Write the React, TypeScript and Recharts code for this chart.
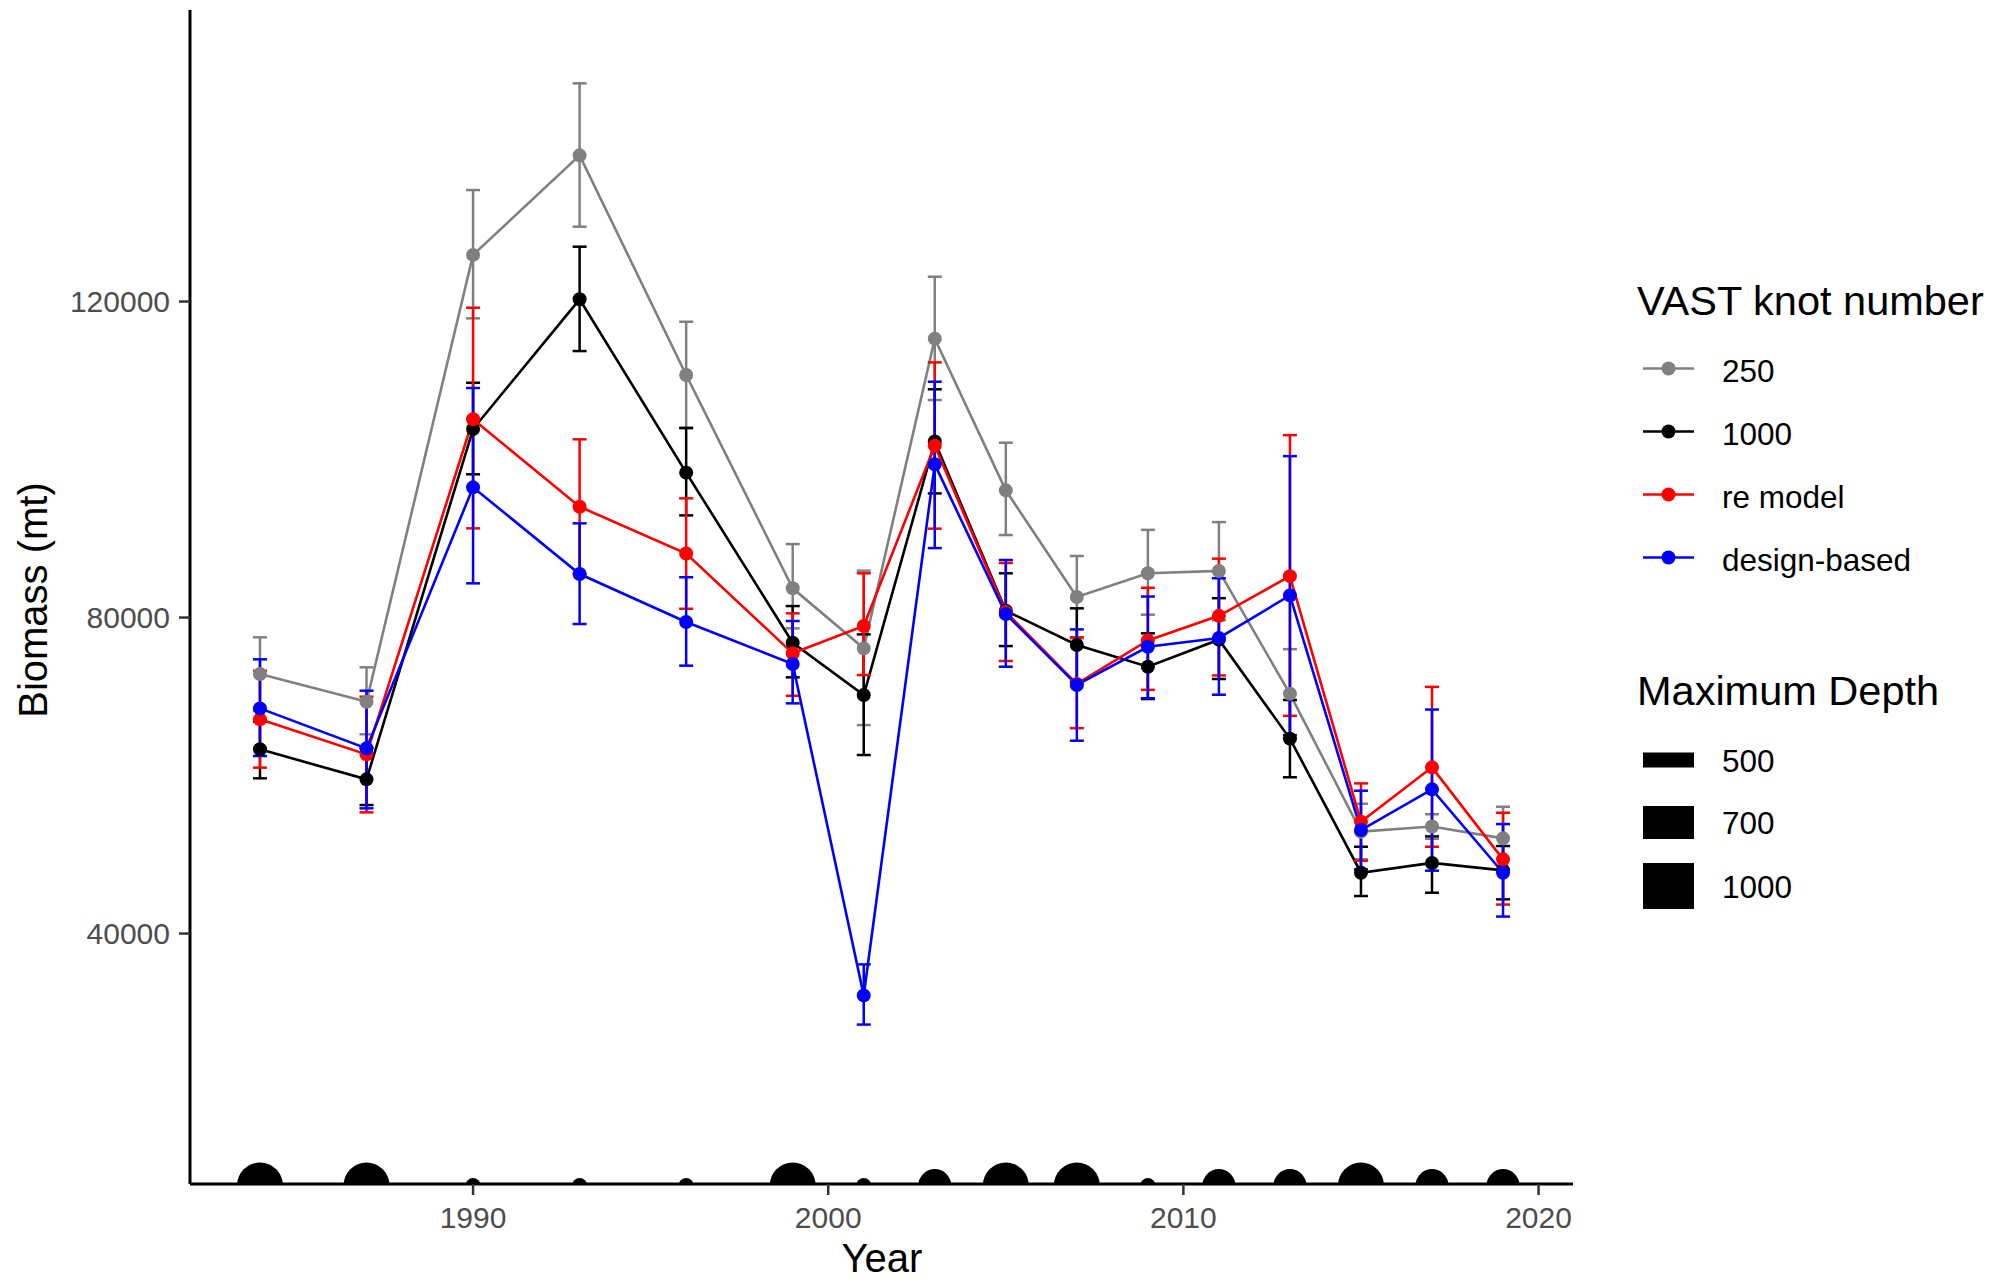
import React from 'react';
import { ComposedChart, ErrorBar, Line, Scatter, XAxis, YAxis } from 'recharts';

const YEARS = [1984, 1987, 1990, 1993, 1996, 1999, 2001, 2003, 2005, 2007, 2009, 2011, 2013, 2015, 2017, 2019];
const MAX_DEPTH = [1000, 1000, 500, 500, 500, 1000, 500, 700, 1000, 1000, 500, 700, 700, 1000, 700, 700];

// VAST, 250 knots
const KNOT_250 = [72850, 69350, 125900, 138500, 110700, 83700, 76100, 115300, 96100, 82600, 85600, 85900, 70350, 52900, 53550, 52050];
const KNOT_250_LO = [68200, 65220, 117870, 129470, 103950, 78630, 66390, 107530, 90440, 77370, 80360, 79650, 64700, 49400, 52000, 48050];
const KNOT_250_HI = [77500, 73700, 134110, 147620, 117440, 89300, 85930, 123140, 102130, 87790, 91100, 92080, 76000, 56430, 55100, 56050];

// VAST, 1000 knots
const KNOT_1000 = [63320, 59520, 103860, 120280, 98340, 76810, 70180, 102280, 80860, 76520, 73780, 77200, 64670, 47700, 48940, 48000];
const KNOT_1000_LO = [59650, 56270, 98130, 113730, 92930, 72430, 62600, 95710, 76390, 71900, 69680, 72220, 59780, 44750, 45170, 44330];
const KNOT_1000_HI = [66810, 63510, 109720, 126940, 104010, 81455, 77870, 108890, 85600, 81165, 78000, 82450, 69560, 50990, 52300, 51080];

// random effects model
const RE_MODEL = [67115, 62680, 105090, 94030, 88100, 75470, 78925, 101760, 80700, 71600, 77100, 80215, 85240, 54150, 61040, 49390];
const RE_MODEL_LO = [61000, 55340, 91290, 85500, 81110, 70100, 72720, 91250, 74500, 66000, 70850, 72670, 67560, 49220, 50990, 43670];
const RE_MODEL_HI = [73270, 69980, 119215, 102560, 95090, 80530, 85600, 112300, 86900, 77500, 83770, 87455, 103090, 59010, 71225, 55290];

// design-based survey estimate
const DESIGN = [68500, 63440, 96480, 85510, 79430, 74115, 32170, 99390, 80440, 71460, 76300, 77420, 82800, 53100, 58250, 47700];
const DESIGN_LO = [62470, 55850, 84330, 79180, 73910, 69140, 28480, 88790, 73775, 64410, 69785, 70230, 65110, 48125, 47960, 42150];
const DESIGN_HI = [74710, 70740, 109050, 91925, 85100, 79560, 36100, 109850, 87280, 78500, 82660, 84970, 100430, 58080, 68355, 53860];

const Y_TICKS = [40000, 80000, 120000];
const X_TICKS = [1990, 2000, 2010, 2020];
const DEPTH_LEVELS = [500, 700, 1000];

const SERIES = [
  { key: 'k250', name: '250', color: '#808080', value: KNOT_250, lo: KNOT_250_LO, hi: KNOT_250_HI },
  { key: 'k1000', name: '1000', color: '#000000', value: KNOT_1000, lo: KNOT_1000_LO, hi: KNOT_1000_HI },
  { key: 're', name: 're model', color: '#FF0000', value: RE_MODEL, lo: RE_MODEL_LO, hi: RE_MODEL_HI },
  { key: 'db', name: 'design-based', color: '#0000FF', value: DESIGN, lo: DESIGN_LO, hi: DESIGN_HI },
];

const DEPTH_R: Record<number, number> = { 500: 7.5, 700: 16.5, 1000: 23 };
const DEPTH_FLOOR = 8100; // just under the panel edge, only the top of each dot shows

const FONT = '"Liberation Sans", Arial, sans-serif';
const W = 1997;
const H = 1280;

const chartData = YEARS.map((year, i) => {
  const row: Record<string, any> = { year };
  SERIES.forEach((s) => {
    row[s.key] = s.value[i];
    row[s.key + 'Err'] = [s.value[i] - s.lo[i], s.hi[i] - s.value[i]];
  });
  return row;
});

const depthData = YEARS.map((year, i) => ({ year, floor: DEPTH_FLOOR, depth: MAX_DEPTH[i] }));

const tickStyle = { fontSize: 30, fill: '#4D4D4D', fontFamily: FONT };

function LegendOverlay() {
  const keyX1 = 1643;
  const keyX2 = 1694;
  const labelX = 1722;
  return (
    <svg
      width={W}
      height={H}
      style={{ position: 'absolute', left: 0, top: 0, pointerEvents: 'none' }}
      fontFamily={FONT}
    >
      {/* axis titles */}
      <text x={47} y={600} fontSize={40} textAnchor="middle" transform="rotate(-90, 47, 600)">
        Biomass (mt)
      </text>
      <text x={882} y={1272} fontSize={40} textAnchor="middle">
        Year
      </text>

      <text x={1637} y={315} fontSize={41.5}>VAST knot number</text>
      {SERIES.map((s, i) => {
        const cy = 368.5 + i * 63;
        return (
          <g key={s.key}>
            <line x1={keyX1} x2={keyX2} y1={cy} y2={cy} stroke={s.color} strokeWidth={2.6} />
            <circle cx={(keyX1 + keyX2) / 2} cy={cy} r={7} fill={s.color} />
            <text x={labelX} y={cy + 13.5} fontSize={31.5}>{s.name}</text>
          </g>
        );
      })}

      <text x={1637} y={705} fontSize={41.5}>Maximum Depth</text>
      {DEPTH_LEVELS.map((d, i) => {
        const cy = [760, 822.5, 886][i];
        const h = DEPTH_R[d] * 2;
        return (
          <g key={d}>
            <rect x={keyX1} y={cy - h / 2} width={keyX2 - keyX1} height={h} fill="#000" />
            <text x={labelX} y={cy + 11.5} fontSize={31.5}>{d}</text>
          </g>
        );
      })}
    </svg>
  );
}

export default function App() {
  return (
    <div style={{ position: 'fixed', left: 0, top: 0, width: W, height: H, background: '#fff' }}>
      <ComposedChart
        width={W}
        height={H}
        data={chartData}
        margin={{ top: 10, right: 424, bottom: 0, left: 0 }}
      >
        <XAxis
          type="number"
          dataKey="year"
          domain={[1982.03, 2020.97]}
          allowDataOverflow
          ticks={X_TICKS}
          height={96}
          tick={tickStyle}
          tickSize={11}
          tickMargin={12}
          tickLine={{ stroke: '#333333', strokeWidth: 2.5 }}
          axisLine={{ stroke: '#000', strokeWidth: 3 }}
        />
        <YAxis
          type="number"
          domain={[8300, 156900]}
          allowDataOverflow
          ticks={Y_TICKS}
          width={190}
          tick={tickStyle}
          tickSize={11}
          tickMargin={9}
          tickLine={{ stroke: '#333333', strokeWidth: 2.5 }}
          axisLine={{ stroke: '#000', strokeWidth: 3 }}
        />
        <Scatter
          data={depthData}
          dataKey="floor"
          isAnimationActive={false}
          shape={(p: any) => <circle cx={p.cx} cy={p.cy} r={DEPTH_R[p.payload.depth]} fill="#000" />}
        />
        {SERIES.map((s) => (
          <Line
            key={s.key}
            type="linear"
            dataKey={s.key}
            name={s.name}
            stroke={s.color}
            strokeWidth={2.6}
            dot={{ r: 7, fill: s.color, stroke: s.color, strokeWidth: 0 }}
            activeDot={false}
            isAnimationActive={false}
          >
            <ErrorBar
              dataKey={s.key + 'Err'}
              direction="y"
              width={7}
              stroke={s.color}
              strokeWidth={2.5}
              isAnimationActive={false}
            />
          </Line>
        ))}
      </ComposedChart>
      <LegendOverlay />
    </div>
  );
}
